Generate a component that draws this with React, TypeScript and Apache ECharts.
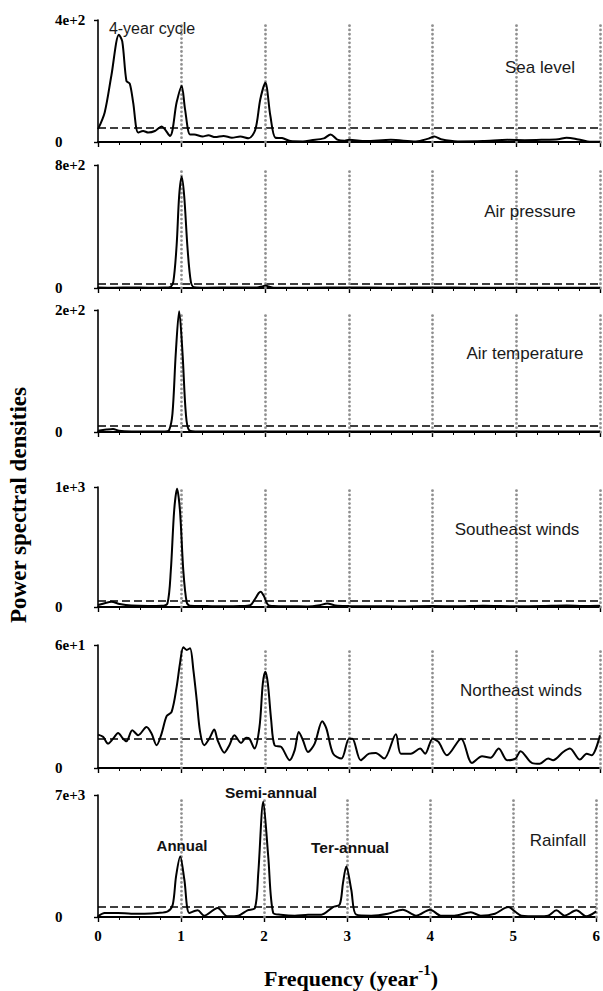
import React, { useEffect, useRef } from "react";
import * as echarts from "echarts";

// ---------- data ----------
const panelNames = ["Sea level", "Air pressure", "Air temperature", "Southeast winds", "Northeast winds", "Rainfall"];
const yMaxValues = [400, 800, 200, 1000, 60, 7000];
const yMaxLabels = ["4e+2", "8e+2", "2e+2", "1e+3", "6e+1", "7e+3"];
const significanceLevels = [46, 26, 10, 52, 14.3, 600];
const harmonics = [1, 2, 3, 4, 5, 6];

const seaLevel = [
  [0, 42], [0.08, 97], [0.16, 218], [0.25, 352], [0.29, 330], [0.34, 200], [0.38, 191], [0.42, 130],
  [0.48, 31], [0.54, 36], [0.6, 31], [0.68, 36], [0.76, 51], [0.86, 20], [0.94, 130], [1.0, 184],
  [1.04, 108], [1.1, 25], [1.15, 25], [1.25, 18], [1.32, 22], [1.4, 16], [1.5, 20], [1.6, 14],
  [1.7, 18], [1.8, 12], [1.88, 40], [1.94, 140], [2.0, 194], [2.06, 86], [2.12, 14], [2.2, 13],
  [2.3, 3], [2.45, 2], [2.55, 6], [2.7, 12], [2.78, 25], [2.86, 8], [2.95, 4], [3.0, 7], [3.2, 3],
  [3.5, 7], [3.8, 2], [3.95, 11], [4.02, 18], [4.1, 9], [4.3, 2], [4.6, 3], [4.9, 7], [5.1, 6],
  [5.3, 7], [5.5, 9], [5.6, 14], [5.7, 11], [5.85, 2], [6.0, 1],
];

const airPressure = [
  [0, 3], [0.2, 2], [0.4, 3], [0.6, 2], [0.8, 3], [0.86, 6], [0.9, 40], [0.94, 280], [0.97, 600],
  [1.0, 724], [1.03, 600], [1.07, 260], [1.11, 40], [1.15, 5], [1.3, 2], [1.6, 3], [1.9, 3],
  [1.96, 10], [2.0, 16], [2.04, 10], [2.1, 2], [2.5, 2], [3, 3], [3.5, 2], [4, 3], [4.5, 2],
  [5, 2], [5.5, 2], [6, 2],
];

const airTemperature = [
  [0, 2], [0.1, 4], [0.18, 5], [0.25, 2], [0.4, 1], [0.6, 1], [0.8, 1], [0.85, 3], [0.89, 30],
  [0.93, 130], [0.97, 198], [1.01, 130], [1.05, 30], [1.09, 3], [1.2, 1], [1.5, 1], [2, 1],
  [2.5, 1], [3, 1], [3.5, 1], [4, 1], [4.5, 1], [5, 1], [5.5, 1], [6, 1],
];

const southeastWinds = [
  [0, 17], [0.08, 32], [0.16, 44], [0.26, 25], [0.4, 12], [0.6, 8], [0.76, 10], [0.83, 30],
  [0.87, 300], [0.91, 800], [0.945, 985], [0.98, 800], [1.02, 300], [1.06, 40], [1.1, 10],
  [1.3, 8], [1.5, 6], [1.7, 8], [1.82, 15], [1.87, 60], [1.92, 115], [1.945, 128], [1.98, 95],
  [2.03, 20], [2.1, 8], [2.3, 6], [2.5, 5], [2.65, 15], [2.74, 30], [2.84, 12], [3.0, 8],
  [3.3, 6], [3.6, 5], [4.0, 8], [4.3, 6], [4.6, 10], [5.0, 6], [5.3, 8], [5.6, 12], [5.8, 8],
  [6.0, 10],
];

const northeastWinds = [
  [0, 16.3], [0.06, 15.2], [0.12, 11.9], [0.18, 14.3], [0.24, 17.1], [0.3, 14.3], [0.34, 13],
  [0.41, 18.4], [0.48, 16], [0.58, 20], [0.64, 16.8], [0.7, 11.1], [0.76, 16.8], [0.82, 25.3],
  [0.88, 27.4], [0.94, 39.6], [0.98, 51], [1.02, 58.9], [1.06, 57.6], [1.1, 58.4], [1.14, 47.8],
  [1.18, 33.1], [1.22, 17.6], [1.27, 11.1], [1.33, 14.3], [1.39, 18.8], [1.43, 13.5], [1.51, 7.5],
  [1.57, 11.1], [1.63, 16], [1.71, 12.2], [1.77, 14.8], [1.81, 14.3], [1.87, 9.5], [1.93, 20],
  [1.97, 41.3], [2.0, 47], [2.03, 41.3], [2.07, 23.3], [2.11, 11.1], [2.19, 10.3], [2.29, 3.8],
  [2.35, 8.6], [2.4, 17.6], [2.45, 13.5], [2.51, 7.8], [2.59, 11.9], [2.68, 22.8], [2.73, 19.2],
  [2.81, 7], [2.91, 4.6], [3.0, 14.3], [3.04, 14.3], [3.14, 3.8], [3.24, 7], [3.32, 7.3],
  [3.42, 4.6], [3.56, 16.5], [3.62, 7], [3.74, 7], [3.85, 9.5], [3.91, 7], [4.0, 14.3],
  [4.07, 12.7], [4.17, 6.2], [4.34, 14.3], [4.47, 2.4], [4.59, 5.7], [4.69, 5], [4.79, 9.5],
  [4.89, 3.8], [4.99, 4.6], [5.05, 8.2], [5.19, 2.4], [5.28, 2.1], [5.38, 4.6], [5.44, 3.8],
  [5.56, 7.8], [5.64, 9.5], [5.76, 4.1], [5.84, 7], [5.9, 6.2], [6.0, 16],
];

const rainfall = [
  [0, 38], [0.08, 229], [0.24, 229], [0.4, 190], [0.56, 190], [0.72, 229], [0.84, 324], [0.9, 706],
  [0.94, 2327], [0.99, 3471], [1.04, 2136], [1.1, 229], [1.2, 381], [1.28, 76], [1.44, 515],
  [1.56, 38], [1.69, 76], [1.8, 381], [1.89, 515], [1.93, 2518], [1.99, 6619], [2.05, 3471],
  [2.11, 229], [2.2, 134], [2.37, 76], [2.53, 134], [2.69, 134], [2.83, 572], [2.91, 706],
  [2.95, 1945], [2.99, 2899], [3.05, 1564], [3.11, 134], [3.29, 76], [3.49, 190], [3.67, 420],
  [3.83, 76], [4.0, 420], [4.13, 76], [4.29, 76], [4.49, 267], [4.61, 76], [4.78, 190],
  [4.94, 572], [5.02, 324], [5.1, 76], [5.3, 38], [5.42, 76], [5.52, 381], [5.62, 76],
  [5.76, 381], [5.88, 38], [6.0, 324],
];

const seriesData = [seaLevel, airPressure, airTemperature, southeastWinds, northeastWinds, rainfall];
const xTickLabels = ["0", "1", "2", "3", "4", "5", "6"];

// ---------- layout ----------
const W = 603;
const H = 991;
const gridLeft = 98;
const gridRight = 3;
const panelTops = [20, 165, 310, 487, 645, 795];
const panelHeights = [122, 123, 122, 120, 123, 122];
const namePos = [[540, 67], [530, 211], [525, 353], [517, 529], [521, 690], [558, 840]];

const serif = "'Liberation Serif', 'Times New Roman', serif";
const sans = "'Liberation Sans', Arial, sans-serif";

export default function App() {
  const ref = useRef<HTMLDivElement>(null);

  useEffect(() => {
    if (!ref.current) return;
    const chart = echarts.init(ref.current, undefined, { renderer: "svg" });

    const grids = panelTops.map((t, i) => ({
      left: gridLeft,
      right: gridRight,
      top: t,
      height: panelHeights[i],
      containLabel: false,
    }));

    const xAxes = panelTops.map((_, i) => ({
      gridIndex: i,
      type: "value",
      min: 0,
      max: 6,
      interval: 1,
      axisLine: { show: true, onZero: false, lineStyle: { color: "#000", width: 1.9 } },
      axisTick: { show: true, length: 5, lineStyle: { color: "#000", width: 1.4 } },
      minorTick: { show: true, splitNumber: 4, length: 3, lineStyle: { color: "#000", width: 1 } },
      minorSplitLine: { show: false },
      splitLine: { show: false },
      axisLabel: {
        show: i === 5,
        margin: 11,
        color: "#000",
        fontFamily: serif,
        fontWeight: "bold",
        fontSize: 15,
        formatter: (v: number) => xTickLabels[Math.round(v)] ?? "",
      },
    }));

    const yAxes = panelTops.map((_, i) => ({
      gridIndex: i,
      type: "value",
      min: 0,
      max: yMaxValues[i],
      interval: yMaxValues[i],
      axisLine: { show: true, onZero: false, lineStyle: { color: "#000", width: 1.6 } },
      axisTick: { show: true, length: 4, lineStyle: { color: "#000", width: 1.4 } },
      splitLine: { show: false },
      axisLabel: {
        show: true,
        align: "left",
        margin: 43,
        color: "#000",
        fontFamily: serif,
        fontWeight: "bold",
        fontSize: 15,
        formatter: (v: number) => (v === 0 ? "0" : yMaxLabels[i]),
      },
    }));

    const dotStyle = { type: [0.01, 4.3], color: "#8f8f8f", width: 2.8, cap: "round" };

    const series = seriesData.map((d, i) => ({
      type: "line",
      xAxisIndex: i,
      yAxisIndex: i,
      data: d,
      symbol: "none",
      showSymbol: false,
      smooth: 0.3,
      lineStyle: { color: "#000", width: 2 },
      z: 3,
      markLine: {
        silent: true,
        symbol: "none",
        label: { show: false },
        z: 2,
        data: [
          { yAxis: significanceLevels[i], lineStyle: { type: [8, 4], color: "#000", width: 1.6 } },
          ...harmonics.map((h) => [
            { coord: [h, 0], lineStyle: dotStyle },
            { coord: [h, yMaxValues[i] * 0.97], lineStyle: dotStyle },
          ]),
        ],
      },
    }));

    const graphics: any[] = panelNames.map((n, i) => ({
      type: "text",
      x: namePos[i][0],
      y: namePos[i][1],
      style: {
        text: n,
        fill: "#1a1a1a",
        font: `17px ${sans}`,
        textAlign: "center",
        textVerticalAlign: "middle",
      },
      z: 10,
    }));

    graphics.push(
      {
        type: "text",
        x: 152,
        y: 28,
        style: { text: "4-year cycle", fill: "#1a1a1a", font: `16px ${sans}`, textAlign: "center", textVerticalAlign: "middle" },
        z: 10,
      },
      {
        type: "text",
        x: 182,
        y: 845,
        style: { text: "Annual", fill: "#111", font: `bold 15px ${sans}`, textAlign: "center", textVerticalAlign: "middle" },
        z: 10,
      },
      {
        type: "text",
        x: 271,
        y: 792,
        style: { text: "Semi-annual", fill: "#111", font: `bold 15.5px ${sans}`, textAlign: "center", textVerticalAlign: "middle" },
        z: 10,
      },
      {
        type: "text",
        x: 350,
        y: 847,
        style: { text: "Ter-annual", fill: "#111", font: `bold 15.5px ${sans}`, textAlign: "center", textVerticalAlign: "middle" },
        z: 10,
      },
      {
        type: "text",
        x: 18,
        y: 505,
        rotation: Math.PI / 2,
        style: {
          text: "Power spectral densities",
          fill: "#000",
          font: `bold 23px ${serif}`,
          textAlign: "center",
          textVerticalAlign: "middle",
        },
        z: 10,
      },
      {
        type: "text",
        x: 351,
        y: 978,
        style: {
          text: "{a|Frequency (year}{b|-1}{a|)}",
          textAlign: "center",
          textVerticalAlign: "middle",
          rich: {
            a: { fontFamily: serif, fontWeight: "bold", fontSize: 22, lineHeight: 32, fill: "#000" },
            b: { fontFamily: serif, fontWeight: "bold", fontSize: 15, verticalAlign: "top", fill: "#000" },
          },
        },
        z: 10,
      }
    );

    chart.setOption({
      animation: false,
      backgroundColor: "#fff",
      grid: grids,
      xAxis: xAxes,
      yAxis: yAxes,
      series,
      graphic: graphics,
    });

    return () => chart.dispose();
  }, []);

  return (
    <div
      ref={ref}
      style={{ position: "absolute", left: 0, top: 0, width: W, height: H, background: "#fff" }}
    />
  );
}
